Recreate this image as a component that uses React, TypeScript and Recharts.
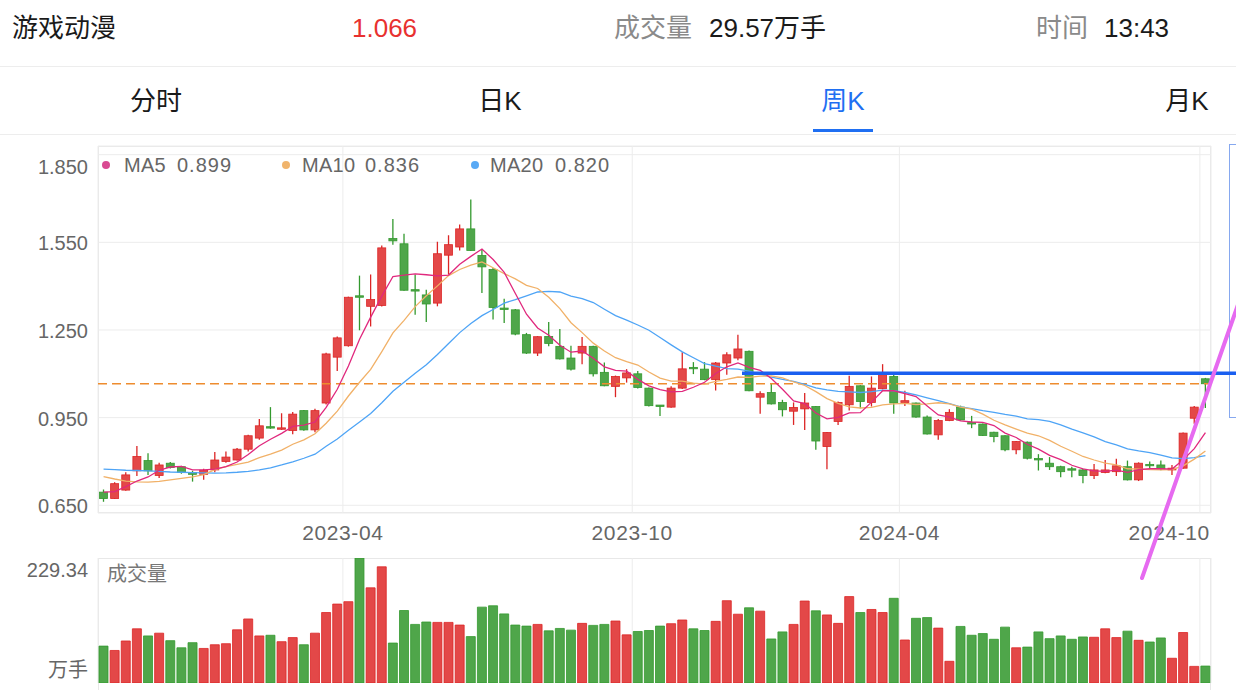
import React from "react";
import {
  Bar,
  BarChart,
  CartesianGrid,
  Cell,
  ComposedChart,
  Line,
  ReferenceLine,
  XAxis,
  YAxis
} from "recharts";

// weekly candles (index 0 = first visible week)
const opens = [
  0.695, 0.673, 0.702, 0.768, 0.803, 0.752, 0.794, 0.782, 0.762, 0.756,
  0.771, 0.8, 0.805, 0.842, 0.88, 0.919, 0.912, 0.906, 0.974, 0.908,
  1.0, 1.157, 1.196, 1.367, 1.331, 1.334, 1.563, 1.545, 1.388, 1.37,
  1.342, 1.506, 1.534, 1.596, 1.505, 1.457, 1.325, 1.319, 1.234, 1.171,
  1.228, 1.194, 1.154, 1.171, 1.194, 1.105, 1.057, 1.086, 1.1, 1.051,
  0.993, 0.986, 1.051, 1.122, 1.116, 1.08, 1.137, 1.154, 1.177, 1.02,
  1.036, 1.002, 0.972, 0.98, 0.988, 0.851, 0.937, 0.994, 1.059, 1.002,
  1.049, 1.091, 1.002, 1.0, 0.952, 0.891, 0.94, 0.986, 0.933, 0.928,
  0.9, 0.888, 0.84, 0.866, 0.81, 0.794, 0.782, 0.775, 0.771, 0.752,
  0.762, 0.765, 0.782, 0.737, 0.79, 0.788, 0.771, 0.777, 0.948, 1.083
];
const closes = [
  0.673, 0.724, 0.754, 0.817, 0.768, 0.788, 0.779, 0.762, 0.756, 0.77,
  0.805, 0.815, 0.842, 0.888, 0.922, 0.915, 0.915, 0.962, 0.908, 0.974,
  1.168, 1.223, 1.362, 1.362, 1.354, 1.531, 1.555, 1.386, 1.385, 1.339,
  1.511, 1.542, 1.596, 1.522, 1.466, 1.327, 1.322, 1.236, 1.171, 1.227,
  1.204, 1.151, 1.116, 1.194, 1.1, 1.059, 1.091, 1.103, 1.053, 0.991,
  0.99, 1.051, 1.117, 1.119, 1.08, 1.137, 1.165, 1.185, 1.042, 1.032,
  0.997, 0.977, 0.985, 1.0, 0.87, 0.899, 1.002, 1.057, 1.005, 1.051,
  1.097, 1.0, 1.008, 0.952, 0.894, 0.94, 0.968, 0.942, 0.93, 0.889,
  0.885, 0.84, 0.868, 0.811, 0.806, 0.782, 0.765, 0.772, 0.752, 0.771,
  0.771, 0.785, 0.737, 0.794, 0.786, 0.775, 0.777, 0.897, 0.986, 1.066
];
const highs = [
  0.704, 0.729, 0.763, 0.853, 0.828, 0.796, 0.798, 0.785, 0.768, 0.775,
  0.832, 0.834, 0.846, 0.891, 0.945, 0.986, 0.965, 0.969, 0.976, 0.98,
  1.172, 1.228, 1.364, 1.436, 1.44, 1.539, 1.63, 1.579, 1.44, 1.388,
  1.552, 1.574, 1.611, 1.697, 1.525, 1.462, 1.357, 1.322, 1.24, 1.229,
  1.277, 1.253, 1.196, 1.226, 1.196, 1.139, 1.094, 1.116, 1.11, 1.053,
  0.993, 1.057, 1.174, 1.14, 1.14, 1.14, 1.174, 1.234, 1.18, 1.04,
  1.066, 1.011, 1.002, 1.034, 0.99, 0.901, 1.005, 1.093, 1.061, 1.091,
  1.133, 1.098, 1.042, 1.002, 0.957, 0.945, 0.979, 0.991, 0.956, 0.93,
  0.902, 0.89, 0.87, 0.868, 0.825, 0.815, 0.785, 0.782, 0.775, 0.791,
  0.805, 0.809, 0.803, 0.797, 0.8, 0.803, 0.788, 0.899, 0.99, 1.086
];
const lows = [
  0.662, 0.672, 0.7, 0.75, 0.754, 0.743, 0.776, 0.758, 0.731, 0.737,
  0.763, 0.796, 0.803, 0.834, 0.874, 0.912, 0.908, 0.893, 0.905, 0.9,
  0.995, 1.11, 1.193, 1.249, 1.262, 1.33, 1.542, 1.384, 1.302, 1.277,
  1.331, 1.44, 1.522, 1.52, 1.377, 1.286, 1.274, 1.232, 1.168, 1.161,
  1.194, 1.149, 1.111, 1.133, 1.091, 1.057, 1.02, 1.07, 1.05, 0.988,
  0.956, 0.984, 1.048, 1.099, 1.078, 1.043, 1.097, 1.146, 1.04, 0.963,
  0.995, 0.954, 0.925, 0.908, 0.84, 0.773, 0.925, 0.974, 0.982, 0.988,
  1.047, 0.963, 0.99, 0.95, 0.892, 0.874, 0.938, 0.94, 0.914, 0.887,
  0.866, 0.835, 0.825, 0.807, 0.769, 0.771, 0.746, 0.746, 0.725, 0.74,
  0.76, 0.75, 0.735, 0.733, 0.777, 0.77, 0.754, 0.775, 0.929, 0.983
];
// volume, 万手
const volumes = [
  67.7, 59.7, 77.1, 99.4, 86.4, 91.4, 77.7, 64.6, 74.0, 63.4,
  70.2, 72.1, 97.6, 117.5, 86.4, 87.6, 75.8, 83.3, 70.2, 91.4,
  129.3, 144.8, 149.2, 229.34, 174.6, 213.2, 73.3, 133.0, 107.5, 111.9,
  111.2, 111.2, 106.3, 85.1, 139.2, 141.7, 126.8, 106.3, 104.4, 107.5,
  95.7, 100.1, 97.0, 109.4, 105.7, 107.5, 113.7, 88.3, 94.5, 96.3,
  104.4, 108.8, 115.6, 99.4, 96.3, 113.1, 151.0, 126.2, 138.0, 131.8,
  80.8, 93.8, 107.5, 150.4, 132.4, 124.9, 109.4, 158.5, 129.3, 134.9,
  129.3, 155.4, 78.9, 118.7, 120.0, 100.7, 39.8, 103.8, 87.6, 90.7,
  80.2, 102.5, 64.6, 65.9, 93.8, 81.4, 86.4, 80.2, 84.5, 83.9,
  99.4, 83.3, 95.1, 78.3, 75.2, 82.7, 45.4, 92.6, 30.5, 31.1
];
// moving average lines as drawn
const ma5 = [
  0.695, 0.697, 0.714, 0.733, 0.747, 0.77, 0.781, 0.783, 0.771, 0.771,
  0.774, 0.782, 0.798, 0.824, 0.854, 0.876, 0.896, 0.92, 0.924, 0.935,
  0.985, 1.047, 1.127, 1.218, 1.294, 1.366, 1.433, 1.438, 1.442, 1.439,
  1.435, 1.438, 1.475, 1.502, 1.527, 1.491, 1.447, 1.375, 1.304, 1.257,
  1.232, 1.198, 1.174, 1.178, 1.153, 1.124, 1.112, 1.109, 1.081, 1.059,
  1.046, 1.038, 1.04, 1.054, 1.071, 1.101, 1.124, 1.137, 1.122, 1.112,
  1.084, 1.047, 1.007, 0.998, 0.966, 0.946, 0.951, 0.966, 0.967, 1.003,
  1.042, 1.042, 1.032, 1.022, 0.99, 0.959, 0.952, 0.939, 0.935, 0.934,
  0.923, 0.897, 0.882, 0.859, 0.842, 0.821, 0.806, 0.787, 0.775, 0.768,
  0.766, 0.77, 0.763, 0.772, 0.775, 0.775, 0.774, 0.806, 0.844, 0.899
];
const ma10 = [
  0.748, 0.74, 0.733, 0.73, 0.729, 0.732, 0.737, 0.742, 0.747, 0.755,
  0.772, 0.782, 0.79, 0.798, 0.813, 0.825, 0.839, 0.859, 0.874, 0.895,
  0.931, 0.972, 1.024, 1.071, 1.115, 1.176, 1.24, 1.283, 1.33, 1.367,
  1.401, 1.436, 1.457, 1.472, 1.483, 1.463, 1.443, 1.425, 1.403, 1.392,
  1.362, 1.323, 1.275, 1.241, 1.205, 1.178, 1.155, 1.142, 1.13, 1.106,
  1.085, 1.075, 1.075, 1.068, 1.065, 1.074, 1.081, 1.089, 1.088, 1.092,
  1.093, 1.086, 1.072, 1.06, 1.039, 1.015, 0.999, 0.987, 0.983, 0.985,
  0.994, 0.997, 0.999, 0.995, 0.997, 1.001, 0.997, 0.986, 0.979, 0.962,
  0.941, 0.925, 0.911, 0.897, 0.888, 0.872, 0.852, 0.835, 0.817, 0.805,
  0.794, 0.788, 0.775, 0.774, 0.772, 0.771, 0.772, 0.785, 0.808, 0.836
];
const ma20 = [
  0.774, 0.772, 0.77, 0.769, 0.768, 0.766, 0.764, 0.763, 0.762, 0.761,
  0.76, 0.761, 0.763, 0.766, 0.771, 0.778, 0.788, 0.799, 0.811, 0.825,
  0.852, 0.877, 0.907, 0.935, 0.964, 1.001, 1.04, 1.071, 1.102, 1.131,
  1.166, 1.204, 1.241, 1.272, 1.299, 1.32, 1.342, 1.354, 1.367, 1.38,
  1.382, 1.38, 1.366, 1.357, 1.344, 1.321, 1.299, 1.284, 1.267, 1.249,
  1.224, 1.199, 1.175, 1.155, 1.135, 1.126, 1.118, 1.116, 1.109, 1.099,
  1.089, 1.081, 1.074, 1.064, 1.052, 1.045, 1.04, 1.038, 1.036, 1.039,
  1.044, 1.042, 1.036, 1.028, 1.018, 1.008, 0.998, 0.987, 0.981, 0.974,
  0.968, 0.961, 0.955, 0.946, 0.943, 0.937, 0.925, 0.911, 0.898, 0.884,
  0.868, 0.857, 0.843, 0.836, 0.83, 0.822, 0.812, 0.81, 0.813, 0.82
];

const priceTicks = [0.65, 0.95, 1.25, 1.55, 1.85];
const priceDomain = [0.6236, 1.8797];
// month boundaries sit between weeks
const dateTicks = [21.5, 47.5, 71.5, 98.5];
const dateLabels = ["2023-04", "2023-10", "2024-04", "2024-10"];
const volTicks = [0, 229.34];
const volTickLabels = ["万手", "229.34"];
const lastPrice = 1.066;

const tabs = ["分时", "日K", "周K", "月K"];
const activeTab = 2;

const FONT = '"Liberation Sans", "Noto Sans CJK SC", sans-serif';
const RED = "#e34848";
const RED_EDGE = "#dc2525";
const GREEN = "#4fa64a";
const GREEN_EDGE = "#33992e";
const BLUE = "#1f6ff2";

const legend = [
  { name: "MA5", value: "0.899", line: "#e0287d", dot: "#d94a92" },
  { name: "MA10", value: "0.836", line: "#f1b168", dot: "#f0b46c" },
  { name: "MA20", value: "0.820", line: "#4ea4f6", dot: "#58a9f5" }
];

const rows = opens.map((open, i) => ({
  i,
  open,
  close: closes[i],
  high: highs[i],
  low: lows[i],
  vol: volumes[i],
  ma5: ma5[i],
  ma10: ma10[i],
  ma20: ma20[i]
}));

function Candle(props: any) {
  const { x, y, width, height, payload } = props;
  const { open, close, high, low } = payload;
  const up = close >= open;
  const top0 = Math.min(y, y + height);
  const h = Math.abs(height);
  const span = high - low || 1;
  const py = (v: number) => top0 + ((high - v) / span) * h;
  const bTop = py(Math.max(open, close));
  const bBot = py(Math.min(open, close));
  const cx = x + width / 2;
  return (
    <g>
      <line x1={cx} x2={cx} y1={top0} y2={top0 + h} stroke={up ? RED_EDGE : GREEN_EDGE} strokeWidth={1.3} />
      <rect
        x={x + 0.5}
        y={bTop}
        width={width - 1}
        height={Math.max(bBot - bTop, 1.4)}
        fill={up ? RED : GREEN}
        stroke={up ? RED_EDGE : GREEN_EDGE}
        strokeWidth={0.8}
      />
    </g>
  );
}

function PriceTick({ x, y, payload }: any) {
  const isTop = payload.value === priceTicks[priceTicks.length - 1];
  return (
    <text x={x} y={isTop ? y + 12 : y + 1} textAnchor="end" dominantBaseline="central" fontSize={20} fill="#666" fontFamily={FONT}>
      {payload.value.toFixed(3)}
    </text>
  );
}

function DateTick({ x, y, payload }: any) {
  const k = dateTicks.indexOf(payload.value);
  const last = k === dateTicks.length - 1;
  return (
    <text
      x={last ? x + 10 : x}
      y={y + 19}
      textAnchor={last ? "end" : "middle"}
      dominantBaseline="central"
      fontSize={21}
      letterSpacing={0.6}
      fill="#666"
      fontFamily={FONT}
    >
      {dateLabels[k]}
    </text>
  );
}

function VolTick({ x, y, payload }: any) {
  const k = volTicks.indexOf(payload.value);
  return (
    <text x={x} y={k === 0 ? y - 13 : y + 12} textAnchor="end" dominantBaseline="central" fontSize={20} fill="#666" fontFamily={FONT}>
      {volTickLabels[k]}
    </text>
  );
}

function Label({ left, top, size = 26, color = "#1a1a1a", center = false, spacing = 0, children }: any) {
  return (
    <div
      style={{
        position: "absolute",
        left,
        top,
        fontSize: size,
        lineHeight: 1,
        color,
        letterSpacing: spacing,
        whiteSpace: "nowrap",
        transform: center ? "translate(-50%, -50%)" : "translateY(-50%)"
      }}
    >
      {children}
    </div>
  );
}

export default function App() {
  const tabCenters = [156, 500, 843, 1187];
  const legendX = [
    { dot: 106, name: 124, value: 177 },
    { dot: 286, name: 302, value: 365 },
    { dot: 475, name: 490, value: 555 }
  ];
  return (
    <div
      style={{
        position: "absolute",
        left: 0,
        top: 0,
        width: 1236,
        height: 690,
        overflow: "hidden",
        background: "#fff",
        fontFamily: FONT
      }}
    >
      {/* quote header */}
      <Label left={12} top={28}>游戏动漫</Label>
      <Label left={352} top={28} color="#e8312f">{lastPrice.toFixed(3)}</Label>
      <Label left={614} top={28} color="#8a8a8a">成交量</Label>
      <Label left={709} top={28}>29.57万手</Label>
      <Label left={1036} top={28} color="#8a8a8a">时间</Label>
      <Label left={1104} top={28}>13:43</Label>
      <div style={{ position: "absolute", left: 0, top: 66, width: 1236, height: 1, background: "#ededed" }} />
      {tabs.map((t, k) => (
        <Label key={t} left={tabCenters[k]} top={101} center color={k === activeTab ? BLUE : "#1a1a1a"}>
          {t}
        </Label>
      ))}
      <div style={{ position: "absolute", left: 813, top: 129, width: 60, height: 3, background: BLUE }} />
      <div style={{ position: "absolute", left: 0, top: 134, width: 1236, height: 1, background: "#ededed" }} />

      {/* panel frames */}
      <div style={{ position: "absolute", left: 98, top: 146, width: 1113, height: 367, boxSizing: "border-box", border: "1px solid #e8e8e8" }} />
      <div style={{ position: "absolute", left: 98, top: 558, width: 1113, height: 140, boxSizing: "border-box", border: "1px solid #e8e8e8" }} />

      <div style={{ position: "absolute", left: 0, top: 0 }}>
        <ComposedChart width={1236} height={546} data={rows} margin={{ top: 146, right: 25, bottom: 0, left: 0 }}>
          <CartesianGrid xAxisId="num" stroke="#ececec" />
          <XAxis
            xAxisId="num"
            dataKey="i"
            type="number"
            domain={[-0.5, 99.5]}
            allowDataOverflow
            ticks={dateTicks}
            interval={0}
            height={33}
            tickSize={0}
            tickMargin={0}
            axisLine={false}
            tickLine={false}
            tick={<DateTick />}
          />
          <XAxis xAxisId="cat" dataKey="i" type="category" height={0} hide />
          <YAxis
            domain={priceDomain}
            allowDataOverflow
            ticks={priceTicks}
            interval={0}
            width={98}
            tickSize={0}
            tickMargin={10}
            axisLine={false}
            tickLine={false}
            tick={<PriceTick />}
          />
          <ReferenceLine xAxisId="num" y={lastPrice} stroke="#ee8c2e" strokeWidth={1.6} strokeDasharray="9 5" />
          <Bar
            xAxisId="cat"
            dataKey={(d: any) => [d.low, d.high]}
            barSize={9}
            shape={(p: any) => <Candle {...p} />}
            isAnimationActive={false}
          />
          <Line xAxisId="cat" dataKey="ma20" stroke={legend[2].line} strokeWidth={1.3} dot={false} type="linear" isAnimationActive={false} />
          <Line xAxisId="cat" dataKey="ma10" stroke={legend[1].line} strokeWidth={1.3} dot={false} type="linear" isAnimationActive={false} />
          <Line xAxisId="cat" dataKey="ma5" stroke={legend[0].line} strokeWidth={1.3} dot={false} type="linear" isAnimationActive={false} />
        </ComposedChart>
      </div>

      {/* MA legend */}
      {legend.map((m, k) => (
        <React.Fragment key={m.name}>
          <div style={{ position: "absolute", left: legendX[k].dot - 4, top: 161, width: 8, height: 8, borderRadius: 4, background: m.dot }} />
          <Label left={legendX[k].name} top={165} size={20} color="#666" spacing={0.3}>{m.name}</Label>
          <Label left={legendX[k].value} top={165} size={20} color="#666" spacing={1}>{m.value}</Label>
        </React.Fragment>
      ))}

      <div style={{ position: "absolute", left: 0, top: 540 }}>
        <BarChart width={1236} height={150} data={rows} margin={{ top: 18, right: 25, bottom: 7, left: 0 }}>
          <CartesianGrid xAxisId="num" horizontal={false} stroke="#ececec" />
          <XAxis xAxisId="num" dataKey="i" type="number" domain={[-0.5, 99.5]} allowDataOverflow ticks={dateTicks} interval={0} height={0} hide />
          <XAxis xAxisId="cat" dataKey="i" type="category" height={0} hide />
          <YAxis
            domain={[0, volTicks[1]]}
            allowDataOverflow
            ticks={volTicks}
            interval={0}
            width={98}
            tickSize={0}
            tickMargin={10}
            axisLine={false}
            tickLine={false}
            tick={<VolTick />}
          />
          <Bar xAxisId="cat" dataKey="vol" barSize={9} isAnimationActive={false} strokeWidth={0.8}>
            {rows.map((r) => (
              <Cell
                key={r.i}
                fill={r.close >= r.open ? RED : GREEN}
                stroke={r.close >= r.open ? RED_EDGE : GREEN_EDGE}
              />
            ))}
          </Bar>
        </BarChart>
      </div>
      <Label left={107} top={574} size={20} color="#777">成交量</Label>

      {/* user drawings on top of the chart */}
      <svg width={1236} height={690} style={{ position: "absolute", left: 0, top: 0, pointerEvents: "none" }}>
        <rect x={1229.5} y={144.5} width={20} height={273} fill="#fff" stroke="#86a8ef" strokeWidth={1} />
        <line x1={742} y1={373.3} x2={1236} y2={373.3} stroke="#1a5ff0" strokeWidth={3.6} />
        <line x1={1142} y1={578} x2={1240} y2={299} stroke="#e66af0" strokeWidth={4} strokeLinecap="round" />
      </svg>
    </div>
  );
}
